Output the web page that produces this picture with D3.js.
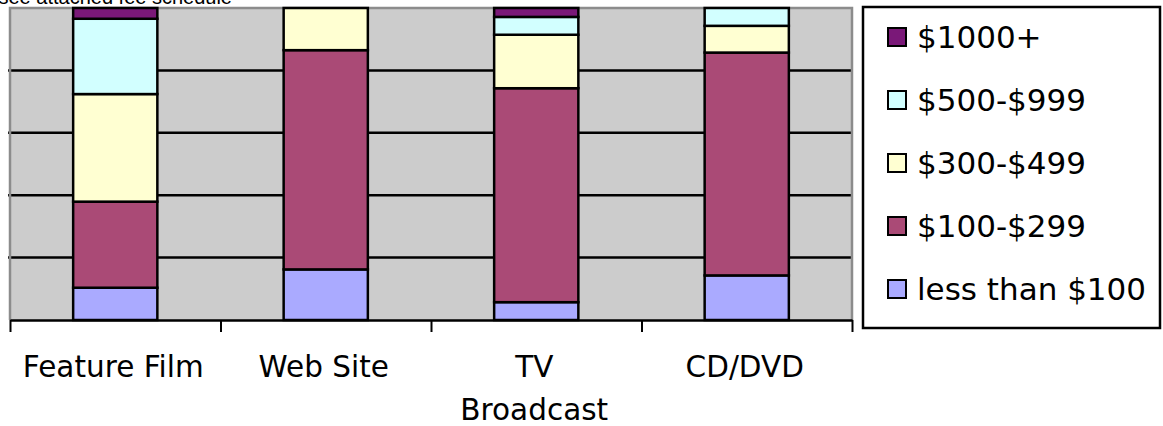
<!DOCTYPE html>
<html>
<head>
<meta charset="utf-8">
<script src="https://cdn.jsdelivr.net/npm/d3@7/dist/d3.min.js"></script>
<style>
  html, body { margin: 0; padding: 0; background: #ffffff; }
  svg { display: block; }
</style>
</head>
<body>
<svg id="chart" width="1163" height="426"></svg>
<script>
// Project use by price range (responses per category)
const categories = ["Feature Film", "Web Site", "TV Broadcast", "CD/DVD"];
const categoryLines = [["Feature Film"], ["Web Site"], ["TV", "Broadcast"], ["CD/DVD"]];

const seriesNames = ["less than $100", "$100-$299", "$300-$499", "$500-$999", "$1000+"];
const lessThan100 = [3, 6, 2, 5];
const from100to299 = [8, 26, 24, 25];
const from300to499 = [10, 5, 6, 3];
const from500to999 = [7, 0, 2, 2];
const from1000up = [1, 0, 1, 0];
const seriesColors = ["#aaaaff", "#aa4a76", "#ffffd2", "#d2ffff", "#7a1878"];

const gridValues = [0.2, 0.4, 0.6, 0.8];

const seriesValues = [lessThan100, from100to299, from300to499, from500to999, from1000up];
const rows = categories.map((c, i) => {
  const row = { category: c };
  seriesNames.forEach((s, k) => { row[s] = seriesValues[k][i]; });
  return row;
});

const svg = d3.select("#chart");
const plot = { left: 10, right: 852, top: 8, bottom: 320 };

const x = d3.scaleBand().domain(categories).range([plot.left, plot.right]).paddingInner(0.6).paddingOuter(0.3);
const xEdge = d3.scaleLinear().domain([0, categories.length]).range([plot.left, plot.right]);
const y = d3.scaleLinear().domain([0, 1]).range([plot.bottom, plot.top]);
const color = d3.scaleOrdinal().domain(seriesNames).range(seriesColors);

const stacked = d3.stack().keys(seriesNames).offset(d3.stackOffsetExpand)(rows);

// Caption line running off the top edge
svg.append("text")
  .attr("x", 232).attr("y", 4)
  .attr("text-anchor", "end")
  .attr("font-family", "Liberation Sans, Arial, sans-serif")
  .attr("font-size", 20)
  .attr("fill", "#000")
  .text("Please see attached fee schedule");

// Plot background
svg.append("rect")
  .attr("x", plot.left).attr("y", plot.top)
  .attr("width", plot.right - plot.left).attr("height", plot.bottom - plot.top)
  .attr("fill", "#cccccc");

// Horizontal gridlines
svg.append("g")
  .selectAll("line")
  .data(gridValues)
  .join("line")
  .attr("x1", plot.left - 2).attr("x2", plot.right)
  .attr("y1", d => y(d)).attr("y2", d => y(d))
  .attr("stroke", "#000").attr("stroke-width", 2.5);

// Plot frame (top, left, right)
svg.append("path")
  .attr("d", `M${plot.left},${plot.bottom} V${plot.top} H${plot.right} V${plot.bottom}`)
  .attr("fill", "none").attr("stroke", "#8c8c8c").attr("stroke-width", 2.5);

// Stacked bars
svg.append("g")
  .selectAll("g")
  .data(stacked)
  .join("g")
  .attr("fill", d => color(d.key))
  .selectAll("rect")
  .data(d => d.filter(p => p[1] - p[0] > 0))
  .join("rect")
  .attr("x", d => x(d.data.category))
  .attr("width", x.bandwidth())
  .attr("y", d => y(d[1]))
  .attr("height", d => y(d[0]) - y(d[1]))
  .attr("stroke", "#000").attr("stroke-width", 2.5);

// Category axis with ticks between categories
const axis = svg.append("g")
  .attr("transform", `translate(0,${plot.bottom})`)
  .call(d3.axisBottom(xEdge).ticks(categories.length).tickSize(12).tickFormat("").tickSizeOuter(0));
axis.select(".domain").attr("stroke", "#000").attr("stroke-width", 2.5);
axis.selectAll(".tick line").attr("stroke", "#000").attr("stroke-width", 2);

const labels = svg.append("g")
  .selectAll("text")
  .data(categories)
  .join("text")
  .attr("x", (d, i) => x(d) + x.bandwidth() / 2 - 2)
  .attr("y", 377)
  .attr("text-anchor", "middle")
  .attr("font-family", "DejaVu Sans, sans-serif")
  .attr("font-size", 29.5)
  .attr("fill", "#000");
labels.selectAll("tspan")
  .data((d, i) => categoryLines[i])
  .join("tspan")
  .attr("x", function() { return d3.select(this.parentNode).attr("x"); })
  .attr("dy", (d, j) => j === 0 ? 0 : 43)
  .text(d => d);

// Legend
const legend = svg.append("g");
legend.append("rect")
  .attr("x", 863).attr("y", 7)
  .attr("width", 297).attr("height", 321)
  .attr("fill", "#fff").attr("stroke", "#000").attr("stroke-width", 2.5);

const legendOrder = seriesNames.slice().reverse();
const legendY = d3.scalePoint().domain(legendOrder).range([37, 289]);
const items = legend.selectAll("g.item")
  .data(legendOrder)
  .join("g")
  .attr("class", "item")
  .attr("transform", d => `translate(0,${legendY(d)})`);
items.append("rect")
  .attr("x", 888).attr("y", -9)
  .attr("width", 18).attr("height", 18)
  .attr("fill", d => color(d))
  .attr("stroke", "#000").attr("stroke-width", 2);
items.append("text")
  .attr("x", 917).attr("y", 11)
  .attr("font-family", "DejaVu Sans, sans-serif")
  .attr("font-size", 31)
  .attr("fill", "#000")
  .text(d => d);
</script>
</body>
</html>
